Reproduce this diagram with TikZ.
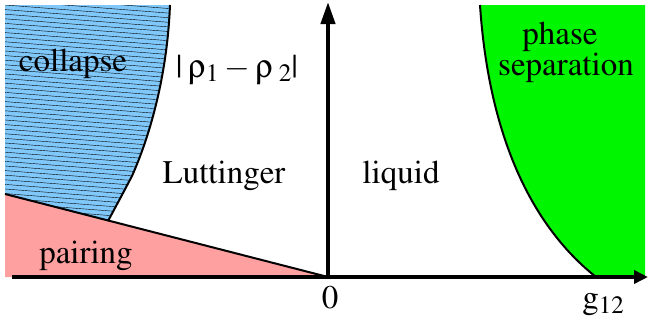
\documentclass[tikz,border=0pt]{standalone}
\usepackage[T1]{fontenc}
\usepackage{mathptmx}
\usepackage[Symbol]{upgreek}
\usepackage{tikz}
\usetikzlibrary{arrows.meta, positioning}
\definecolor{collapseblue}{RGB}{128,200,250}
\definecolor{pairingpink}{RGB}{255,160,160}
\definecolor{phasegreen}{RGB}{0,245,0}
\newcommand{\lowsub}[1]{\raisebox{-5pt}{\fontsize{25}{25}\selectfont #1}}

\begin{document}
\begin{tikzpicture}[x=1pt, y=-1pt,
    label/.style={anchor=base, inner sep=0pt, font=\fontsize{33}{38}\selectfont},
    border/.style={line width=2pt},
    axis/.style={line width=4pt}]
    \useasboundingbox (0,0) rectangle (649,324);
    % phase regions
    \coordinate (origin) at (328,277);
    \coordinate (kink) at (108,221);
    \fill[pairingpink] (5,194) -- (origin) -- (5,277) -- cycle;
    \fill[collapseblue] (5,5) -- (170,5) .. controls (167,80) and (148,140) .. (132,176)
        .. controls (122,195) .. (kink) -- (5,194) -- cycle;
    \begin{scope}
        \clip (5,5) -- (170,5) .. controls (167,80) and (148,140) .. (132,176)
            .. controls (122,195) .. (kink) -- (5,194) -- cycle;
        \foreach \k in {-5,...,55}
            \draw[line width=0.4pt] (0,\k*4.6) -- (180,\k*4.6+14);
    \end{scope}
    \draw[border] (170,5) .. controls (167,80) and (148,140) .. (132,176)
        .. controls (122,195) .. (kink);
    \fill[phasegreen] (480,5) .. controls (487,110) and (518,215) .. (596,277)
        -- (645,277) -- (645,5) -- cycle;
    \draw[border] (480,5) .. controls (487,110) and (518,215) .. (596,277);
    \draw[border] (5,194) -- (origin);
    % axes
    \coordinate (xstart) at (12,277);
    \coordinate (xend) at (648,277);
    \coordinate (yend) at (328,2);
    \draw[axis, -{Triangle[length=14pt, width=13pt]}] (xstart) -- (xend);
    \draw[axis, -{Triangle[length=22pt, width=14pt]}] (origin) -- (yend);
    % labels
    \node[label] (collapse) at (73,71) {collapse};
    \node[label] (rho) at (237,77) {|\,$\uprho$\lowsub{1}\,$-$\,$\uprho$\,\lowsub{2}|};
    \node[label] (lutt) at (224,183) {Luttinger};
    \node[label] (liquid) at (401,183) {liquid};
    \node[label] (phase) at (560,45) {phase};
    \node[label] (separation) at (566,75) {separation};
    \node[label] (pairing) at (86,263) {pairing};
    \node[label] (zero) at (330,308) {0};
    \node[label] (g) at (603,308) {g\lowsub{12}};
\end{tikzpicture}
\end{document}
